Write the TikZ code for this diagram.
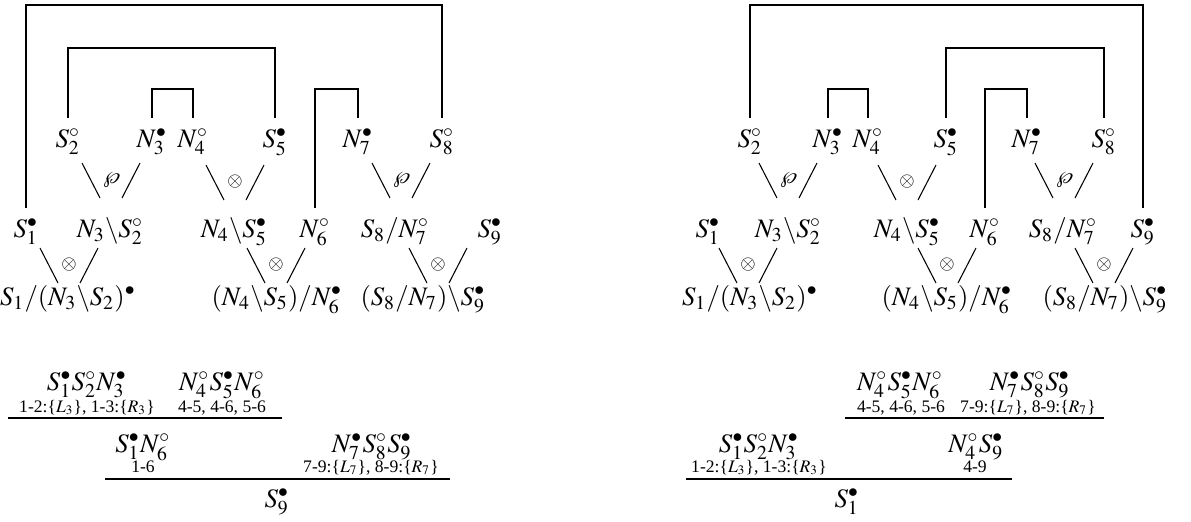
\documentclass[tikz,border=0pt]{standalone}
\usepackage{mathptmx}
\usepackage{fontspec}
\setmainfont{Liberation Serif}
\usepackage{tikz}

\begin{document}
\begin{tikzpicture}[x=0.375pt,y=-0.375pt,
  fm/.style={anchor=base,inner sep=0pt,outer sep=4pt},
  lab/.style={anchor=base,inner sep=0pt,font=\fontsize{6.6}{7}\selectfont},
  axlink/.style={line width=0.8pt},
  stroke/.style={line width=0.4pt},
  rule/.style={line width=0.8pt}]
  \def\lnk#1#2#3{\node (#1) at (#2) {$\scriptstyle#3$};
     \draw[stroke] ([shift={(-29,-17)}]#1.center) -- ++(18,35);
     \draw[stroke] ([shift={(29,-17)}]#1.center) -- ++(-18,35);}
  \def\ax#1#2#3{\draw[axlink] (#1.north) -- (#1.north |- 0,#3) -| (#2.north);}
  \useasboundingbox (0,0) rectangle (1191,521);
  % left net
  \foreach \n/\x/\t in {S2/68/{S_2^\circ},N3/152/{N_3^\bullet},N4/193/{N_4^\circ},
                        S5/275/{S_5^\bullet},N7/358/{N_7^\bullet},S8/442/{S_8^\circ}}{
     \node[fm] (a\n) at (\x,147) {$\t$};}
  \foreach \n/\x/\t in {S1/26/{S_1^\bullet},NS/110/{N_3\backslash S_2^\circ},NSb/234/{N_4\backslash S_5^\bullet},
                        N6/315/{N_6^\circ},SN/395/{S_8/N_7^\circ},S9/490/{S_9^\bullet}}{
     \node[fm] (a\n) at (\x,237) {$\t$};}
  \foreach \n/\x/\t in {F1/68/{S_1/(N_3\backslash S_2)^\bullet},F2/277/{(N_4\backslash S_5)/N_6^\bullet},
                        F3/423/{(S_8/N_7)\backslash S_9^\bullet}}{
     \node[fm] (a\n) at (\x,305) {$\t$};}
  \lnk{apar1}{111,180}{\wp}
  \lnk{aten1}{235,182}{\otimes}
  \lnk{apar2}{401,180}{\wp}
  \lnk{aten2}{69,265}{\otimes}
  \lnk{aten3}{276,265}{\otimes}
  \lnk{aten4}{438,265}{\otimes}
  \ax{aS1}{aS8}{5}
  \ax{aS2}{aS5}{48}
  \ax{aN3}{aN4}{89}
  \ax{aN6}{aN7}{89}
  % left proof
  \node[fm] (aq1) at (87,390) {$S_1^\bullet S_2^\circ N_3^\bullet$};
  \node[fm] (aq2) at (222,390) {$N_4^\circ S_5^\bullet N_6^\circ$};
  \node[lab] (al1) at (87,412) {1-2:\{$L_3$\}, 1-3:\{$R_3$\}};
  \node[lab] (al2) at (222,412) {4-5, 4-6, 5-6};
  \draw[rule] (8,418) -- (282,418);
  \node[fm] (aq3) at (143,452) {$S_1^\bullet N_6^\circ$};
  \node[fm] (aq4) at (372,452) {$N_7^\bullet S_8^\circ S_9^\bullet$};
  \node[lab] (al3) at (143,472) {1-6};
  \node[lab] (al4) at (371,472) {7-9:\{$L_7$\}, 8-9:\{$R_7$\}};
  \draw[rule] (105,479) -- (450,479);
  \node[fm] (aq5) at (277,507) {$S_9^\bullet$};
  % right net
  \foreach \n/\x/\t in {S2/750/{S_2^\circ},N3/828/{N_3^\bullet},N4/868/{N_4^\circ},
                        S5/946/{S_5^\bullet},N7/1027/{N_7^\bullet},S8/1104/{S_8^\circ}}{
     \node[fm] (b\n) at (\x,147) {$\t$};}
  \foreach \n/\x/\t in {S1/708/{S_1^\bullet},NS/788/{N_3\backslash S_2^\circ},NSb/907/{N_4\backslash S_5^\bullet},
                        N6/985/{N_6^\circ},SN/1063/{S_8/N_7^\circ},S9/1143/{S_9^\bullet}}{
     \node[fm] (b\n) at (\x,237) {$\t$};}
  \foreach \n/\x/\t in {F1/750/{S_1/(N_3\backslash S_2)^\bullet},F2/947/{(N_4\backslash S_5)/N_6^\bullet},
                        F3/1105/{(S_8/N_7)\backslash S_9^\bullet}}{
     \node[fm] (b\n) at (\x,305) {$\t$};}
  \lnk{bpar1}{788,180}{\wp}
  \lnk{bten1}{907,182}{\otimes}
  \lnk{bpar2}{1064,180}{\wp}
  \lnk{bten2}{748,265}{\otimes}
  \lnk{bten3}{947,265}{\otimes}
  \lnk{bten4}{1104,265}{\otimes}
  \ax{bS2}{bS9}{5}
  \ax{bS5}{bS8}{48}
  \ax{bN3}{bN4}{89}
  \ax{bN6}{bN7}{89}
  % right proof
  \node[fm] (bq1) at (900,390) {$N_4^\circ S_5^\bullet N_6^\circ$};
  \node[fm] (bq2) at (1030,390) {$N_7^\bullet S_8^\circ S_9^\bullet$};
  \node[lab] (bl1) at (901,412) {4-5, 4-6, 5-6};
  \node[lab] (bl2) at (1028,412) {7-9:\{$L_7$\}, 8-9:\{$R_7$\}};
  \draw[rule] (845,418) -- (1104,418);
  \node[fm] (bq3) at (759,452) {$S_1^\bullet S_2^\circ N_3^\bullet$};
  \node[fm] (bq4) at (976,452) {$N_4^\circ S_9^\bullet$};
  \node[lab] (bl3) at (759,472) {1-2:\{$L_3$\}, 1-3:\{$R_3$\}};
  \node[lab] (bl4) at (975,472) {4-9};
  \draw[rule] (686,479) -- (1012,479);
  \node[fm] (bq5) at (847,507) {$S_1^\bullet$};
\end{tikzpicture}
\end{document}
